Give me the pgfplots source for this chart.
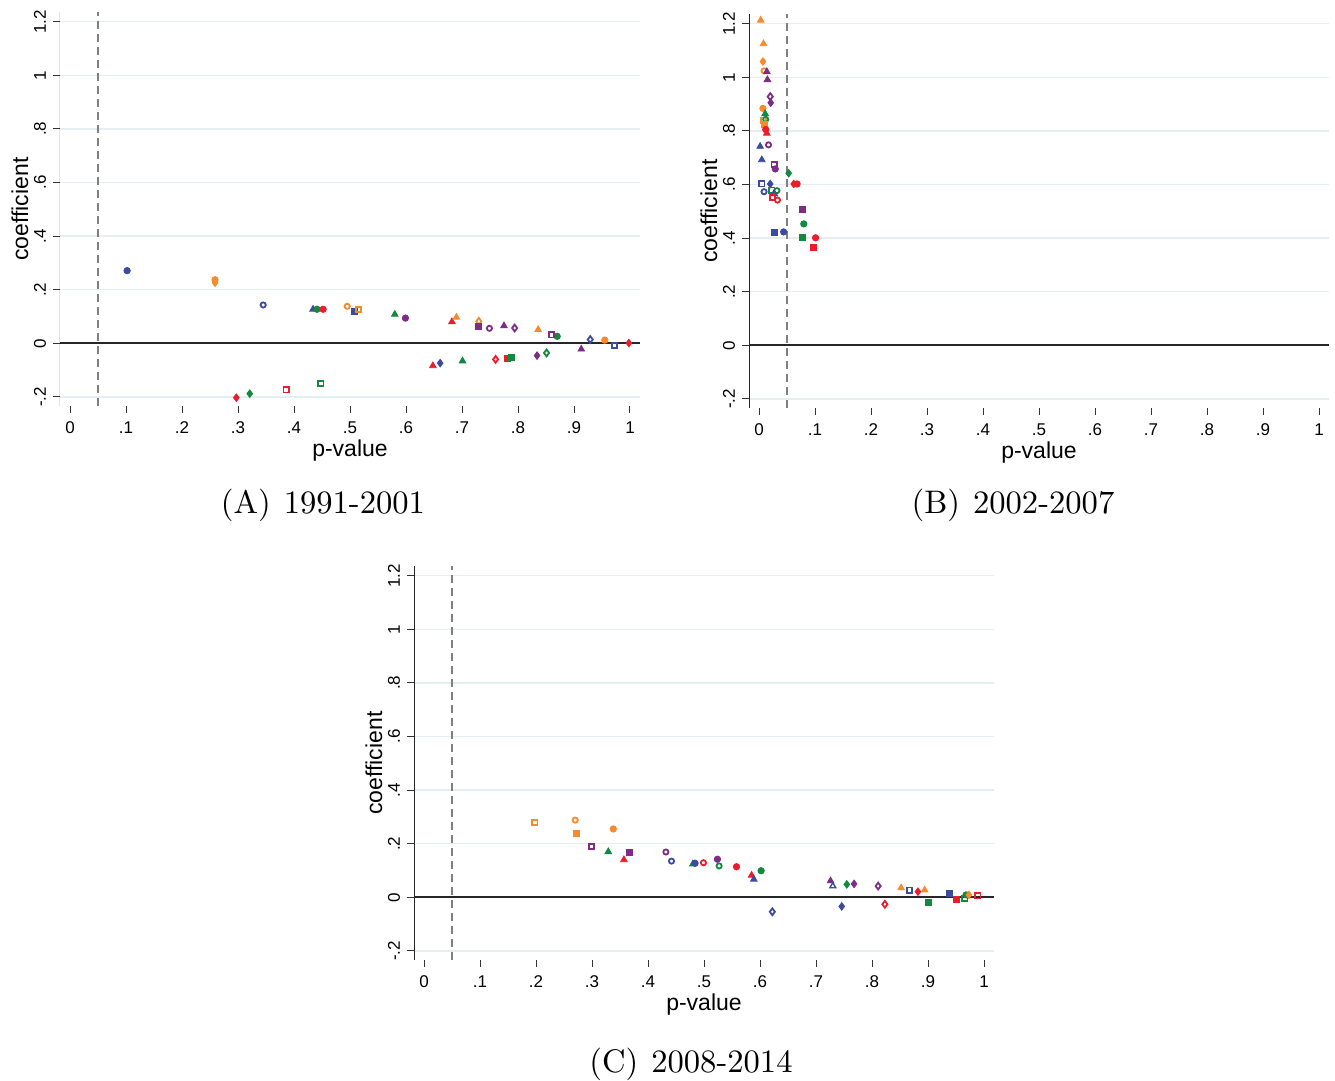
\documentclass[border=0pt]{standalone}
\usepackage{fontspec}
\setsansfont{Liberation Sans}
\newfontfamily\capfont{lmroman10-regular.otf}
\usepackage{pgfplots}
\pgfplotsset{compat=1.18}
\definecolor{cB}{HTML}{3A4BA0}
\definecolor{cO}{HTML}{F68B2C}
\definecolor{cG}{HTML}{118A3F}
\definecolor{cR}{HTML}{EC1C2A}
\definecolor{cP}{HTML}{7D2D85}
\definecolor{gridc}{HTML}{E4EEF0}
\pgfplotsset{
  fc/.style={only marks, mark=*, mark size=1.6pt, color=#1},
  hc/.style={only marks, mark=o, mark size=1.3pt, color=#1, mark options={line width=0.9pt}},
  fs/.style={only marks, mark=square*, mark size=1.5pt, color=#1},
  hs/.style={only marks, mark=square, mark size=1.3pt, color=#1, mark options={line width=0.9pt}},
  ft/.style={only marks, mark=triangle*, mark size=1.9pt, color=#1},
  ht/.style={only marks, mark=triangle, mark size=1.7pt, color=#1, mark options={line width=0.7pt}},
  fd/.style={only marks, mark=diamond*, mark size=1.9pt, color=#1},
  hd/.style={only marks, mark=diamond, mark size=1.7pt, color=#1, mark options={line width=0.9pt}},
  panel/.style={
    scale only axis, width=290pt, height=197pt, anchor=south west,
    xmin=-0.01786, xmax=1.01786, ymin=-0.234, ymax=1.2362,
    axis line style={draw=none},
    xtick={0,0.1,0.2,0.3,0.4,0.5,0.6,0.7,0.8,0.9,1},
    xticklabels={0,.1,.2,.3,.4,.5,.6,.7,.8,.9,1},
    ytick={-0.2,0,0.2,0.4,0.6,0.8,1,1.2},
    yticklabels={-.2,0,.2,.4,.6,.8,1,1.2},
    yticklabel style={rotate=90, anchor=south},
    xticklabel style={yshift=-1pt},
    tick align=outside, xtick pos=bottom, ytick pos=left,
    major tick length=3.5pt,
    tick style={black!80, line width=0.5pt},
    ymajorgrids, grid style={color=gridc, line width=0.7pt},
    tick label style={font=\sffamily\fontsize{8.5}{10}\selectfont},
    label style={font=\sffamily\fontsize{11.5}{13}\selectfont},
    xlabel={p-value}, ylabel={coefficient},
    xlabel style={at={(axis description cs:0.5,-0.112)}, anchor=center},
    ylabel style={at={(axis description cs:-0.069,0.5)}, anchor=center},
  },
}
\newcommand{\decor}{%
  \draw[black!85, line width=0.5pt] (rel axis cs:0,0) -- (rel axis cs:0,1);
  \draw[black!85, line width=0.8pt] (axis cs:-0.01786,0) -- (axis cs:1.01786,0);
  \draw[black!50, line width=0.6pt, dash pattern=on 4pt off 2.5pt] (axis cs:0.05,-0.234) -- (axis cs:0.05,1.2362);
}
\begin{document}
\begin{tikzpicture}
\useasboundingbox (0,0) rectangle (667.5pt,-540.5pt);
% Panel A
\begin{axis}[panel, at={(30pt,-203pt)}]
\decor
\addplot[fc=cB] coordinates {(0.102,0.271)};
\addplot[fc=cO] coordinates {(0.259,0.237) (0.955,0.012)};
\addplot[fd=cO] coordinates {(0.259,0.226)};
\addplot[hc=cB] coordinates {(0.345,0.143)};
\addplot[ft=cB] coordinates {(0.434,0.127)};
\addplot[fc=cG] coordinates {(0.441,0.127) (0.870,0.026)};
\addplot[fc=cR] coordinates {(0.452,0.127)};
\addplot[hc=cO] coordinates {(0.495,0.138)};
\addplot[fs=cB] coordinates {(0.507,0.120)};
\addplot[hs=cO] coordinates {(0.515,0.125)};
\addplot[hs=cG] coordinates {(0.448,-0.151)};
\addplot[hs=cR] coordinates {(0.386,-0.174)};
\addplot[fd=cG] coordinates {(0.321,-0.188)};
\addplot[fd=cR] coordinates {(0.297,-0.203) (0.998,0.001)};
\addplot[ft=cG] coordinates {(0.580,0.108) (0.701,-0.066)};
\addplot[fc=cP] coordinates {(0.599,0.094)};
\addplot[ft=cR] coordinates {(0.682,0.080) (0.648,-0.084)};
\addplot[ft=cO] coordinates {(0.690,0.097) (0.836,0.051)};
\addplot[hd=cO] coordinates {(0.730,0.082)};
\addplot[fs=cP] coordinates {(0.729,0.062)};
\addplot[hc=cP] coordinates {(0.749,0.056)};
\addplot[ft=cP] coordinates {(0.775,0.065) (0.913,-0.022)};
\addplot[hd=cP] coordinates {(0.794,0.057)};
\addplot[hs=cP] coordinates {(0.860,0.031)};
\addplot[hd=cB] coordinates {(0.929,0.014)};
\addplot[hs=cB] coordinates {(0.972,-0.008)};
\addplot[fd=cB] coordinates {(0.661,-0.074)};
\addplot[hd=cR] coordinates {(0.760,-0.060)};
\addplot[fs=cR] coordinates {(0.781,-0.055)};
\addplot[fs=cG] coordinates {(0.788,-0.054)};
\addplot[fd=cP] coordinates {(0.834,-0.046)};
\addplot[hd=cG] coordinates {(0.851,-0.036)};
\end{axis}
% Panel B
\begin{axis}[panel, at={(374.5pt,-204pt)}]
\decor
\addplot[ft=cO] coordinates {(0.003,1.213) (0.008,1.125)};
\addplot[fd=cO] coordinates {(0.007,1.059)};
\addplot[hc=cO] coordinates {(0.009,1.024)};
\addplot[ft=cP] coordinates {(0.014,1.021) (0.015,0.991)};
\addplot[hd=cP] coordinates {(0.020,0.928)};
\addplot[fd=cP] coordinates {(0.021,0.905)};
\addplot[fc=cO] coordinates {(0.007,0.884)};
\addplot[ft=cG] coordinates {(0.011,0.864)};
\addplot[hs=cO] coordinates {(0.008,0.840)};
\addplot[hc=cG] coordinates {(0.012,0.843)};
\addplot[fs=cO] coordinates {(0.009,0.824)};
\addplot[fc=cR] coordinates {(0.012,0.805)};
\addplot[ft=cR] coordinates {(0.014,0.791)};
\addplot[ft=cB] coordinates {(0.002,0.742) (0.005,0.692)};
\addplot[hc=cP] coordinates {(0.017,0.748)};
\addplot[hs=cP] coordinates {(0.027,0.674)};
\addplot[fc=cP] coordinates {(0.029,0.658)};
\addplot[fd=cG] coordinates {(0.053,0.642)};
\addplot[fd=cR] coordinates {(0.062,0.602)};
\addplot[fc=cR] coordinates {(0.068,0.602) (0.101,0.401)};
\addplot[hs=cB] coordinates {(0.005,0.602)};
\addplot[fd=cB] coordinates {(0.020,0.602)};
\addplot[hc=cB] coordinates {(0.009,0.573)};
\addplot[hs=cG] coordinates {(0.023,0.579)};
\addplot[hc=cG] coordinates {(0.032,0.577)};
\addplot[ht=cB] coordinates {(0.027,0.566)};
\addplot[hs=cR] coordinates {(0.024,0.553)};
\addplot[hc=cR] coordinates {(0.033,0.542)};
\addplot[fs=cP] coordinates {(0.077,0.507)};
\addplot[fc=cG] coordinates {(0.080,0.453)};
\addplot[fs=cB] coordinates {(0.028,0.422)};
\addplot[fc=cB] coordinates {(0.044,0.423)};
\addplot[fs=cG] coordinates {(0.077,0.403)};
\addplot[fs=cR] coordinates {(0.098,0.366)};
\end{axis}
% Panel C
\begin{axis}[panel, at={(207pt,-480pt)}]
\decor
\addplot[hs=cO] coordinates {(0.198,0.278)};
\addplot[hc=cO] coordinates {(0.270,0.288)};
\addplot[fs=cO] coordinates {(0.273,0.240)};
\addplot[fc=cO] coordinates {(0.338,0.255)};
\addplot[hs=cP] coordinates {(0.299,0.189)};
\addplot[ft=cG] coordinates {(0.329,0.170) (0.480,0.124)};
\addplot[fs=cP] coordinates {(0.367,0.169)};
\addplot[ft=cR] coordinates {(0.357,0.140) (0.585,0.082)};
\addplot[hc=cP] coordinates {(0.432,0.169)};
\addplot[hc=cB] coordinates {(0.442,0.135)};
\addplot[fc=cB] coordinates {(0.484,0.127)};
\addplot[hc=cR] coordinates {(0.499,0.129)};
\addplot[fc=cP] coordinates {(0.524,0.142)};
\addplot[hc=cG] coordinates {(0.527,0.117)};
\addplot[fc=cR] coordinates {(0.558,0.114)};
\addplot[ft=cB] coordinates {(0.589,0.067)};
\addplot[fc=cG] coordinates {(0.602,0.099) (0.968,0.009)};
\addplot[hd=cB] coordinates {(0.622,-0.054)};
\addplot[ft=cP] coordinates {(0.726,0.061)};
\addplot[ht=cB] coordinates {(0.730,0.042)};
\addplot[fd=cG] coordinates {(0.755,0.048)};
\addplot[fd=cP] coordinates {(0.768,0.050)};
\addplot[hd=cP] coordinates {(0.811,0.042)};
\addplot[ft=cO] coordinates {(0.852,0.035) (0.894,0.027)};
\addplot[hs=cB] coordinates {(0.867,0.027)};
\addplot[fd=cR] coordinates {(0.882,0.021)};
\addplot[fs=cB] coordinates {(0.938,0.013)};
\addplot[fs=cR] coordinates {(0.951,-0.009)};
\addplot[hs=cG] coordinates {(0.966,-0.005)};
\addplot[fd=cO] coordinates {(0.973,0.009)};
\addplot[hs=cR] coordinates {(0.989,0.005)};
\addplot[fd=cB] coordinates {(0.746,-0.034)};
\addplot[hd=cR] coordinates {(0.823,-0.026)};
\addplot[fs=cG] coordinates {(0.900,-0.018)};
\end{axis}
% Captions
\node[font=\capfont\fontsize{16.3}{19}\selectfont] at (161.5pt,-252.5pt) {(A)\hspace{0.4em}1991-2001};
\node[font=\capfont\fontsize{16.3}{19}\selectfont] at (506.5pt,-252.5pt) {(B)\hspace{0.4em}2002-2007};
\node[font=\capfont\fontsize{16.3}{19}\selectfont] at (345.5pt,-532pt) {(C)\hspace{0.4em}2008-2014};
\end{tikzpicture}
\end{document}
